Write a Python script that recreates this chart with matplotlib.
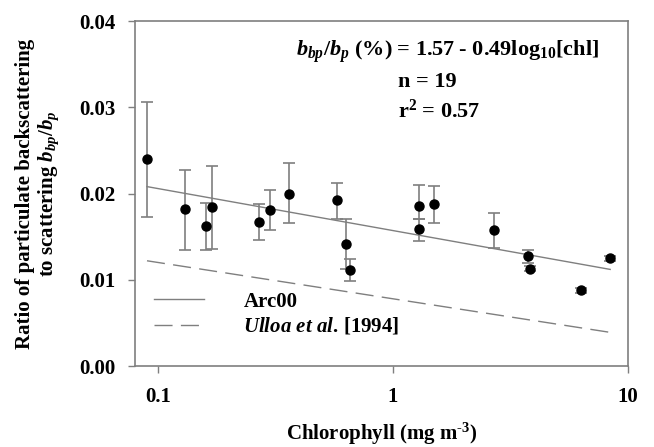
import numpy as np
import matplotlib
matplotlib.use("Agg")
import matplotlib.pyplot as plt

# data
chl = [0.09, 0.13, 0.16, 0.17, 0.27, 0.30, 0.36, 0.58, 0.63, 0.66,
       1.29, 1.29, 1.49, 2.70, 3.74, 3.84, 6.29, 8.38]
ratio = [0.0240, 0.0182, 0.0162, 0.0184, 0.0167, 0.0181, 0.0200, 0.0192, 0.0141, 0.0111,
         0.0185, 0.0159, 0.0188, 0.0158, 0.0128, 0.0113, 0.0088, 0.0125]
err_hi = [0.0306, 0.0227, 0.0189, 0.0232, 0.0188, 0.0204, 0.0235, 0.0212, 0.0170, 0.0124,
          0.0210, 0.0171, 0.0209, 0.0177, 0.0135, 0.0116, 0.0091, 0.0128]
err_lo = [0.0173, 0.0135, 0.0134, 0.0136, 0.0146, 0.0158, 0.0166, 0.0170, 0.0112, 0.0099,
          0.0171, 0.0145, 0.0166, 0.0137, 0.0119, 0.0110, 0.0085, 0.0122]

line_x = [0.09, 8.4]
arc00_y = [0.0208, 0.0112]
ulloa_y = [0.0122, 0.0039]

plt.rcParams['font.family'] = 'Liberation Serif'
plt.rcParams['font.weight'] = 'bold'
plt.rcParams['axes.labelweight'] = 'bold'
plt.rcParams['mathtext.fontset'] = 'custom'
plt.rcParams['mathtext.rm'] = 'Liberation Serif:bold'
plt.rcParams['mathtext.bf'] = 'Liberation Serif:bold'
plt.rcParams['mathtext.it'] = 'Liberation Serif:italic:bold'

gray = '#7f7f7f'

fig = plt.figure(figsize=(6.54, 4.47), dpi=100)
ax = fig.add_axes([0.2064, 0.1812, 0.7538, 0.7718])

ratio = np.array(ratio)
yerr = [ratio - np.array(err_lo), np.array(err_hi) - ratio]
ax.errorbar(chl, ratio, yerr=yerr, fmt='o', color='black', ms=6.5,
            ecolor=gray, elinewidth=1.2, capsize=4, capthick=1.2, zorder=3)

ax.plot(line_x, arc00_y, '-', color=gray, lw=1.0, label='Arc00')
ax.plot(line_x, ulloa_y, '--', color=gray, lw=1.0, dashes=(13, 6),
        label=r'$\mathit{Ulloa\ et\ al}$. [1994]')

ax.set_xscale('log')
ax.set_xlim(0.08, 10)
ax.set_ylim(0, 0.04)
ax.set_xticks([0.1, 1, 10])
ax.set_xticklabels(['0.1', '1', '10'])
ax.minorticks_off()
ax.set_yticks([0, 0.01, 0.02, 0.03, 0.04])
ax.set_yticklabels(['0.00', '0.01', '0.02', '0.03', '0.04'])
ax.tick_params(axis='both', labelsize=15, color=gray, length=5, width=1)
ax.tick_params(axis='x', pad=10)
ax.tick_params(axis='y', pad=9)
for s in ax.spines.values():
    s.set_color(gray)
    s.set_linewidth(1.2)

ax.set_xlabel('Chlorophyll (mg m$^{\\mathrm{\u2010}3}$)', fontsize=15, labelpad=10)
ax.set_ylabel('Ratio of particulate backscattering\n' + r'to scattering $b_{bp}/b_p$',
              fontsize=15, labelpad=13, linespacing=1.1)

ax.text(0.327, 0.91, r'$b_{bp}/b_p$ (%) = 1.57 - 0.49log$_{\mathrm{10}}$[chl]',
        transform=ax.transAxes, fontsize=16, va='center')
ax.text(0.533, 0.823, 'n = 19', transform=ax.transAxes, fontsize=16, va='center')
ax.text(0.533, 0.739, r'r$^{\mathrm{2}}$ = 0.57', transform=ax.transAxes, fontsize=16, va='center')

ax.legend(loc='lower left', bbox_to_anchor=(0.0, 0.03), frameon=False,
          fontsize=15, handlelength=2.4, handletextpad=1.9, labelspacing=0.2)

fig.savefig('out.png', dpi=100)
